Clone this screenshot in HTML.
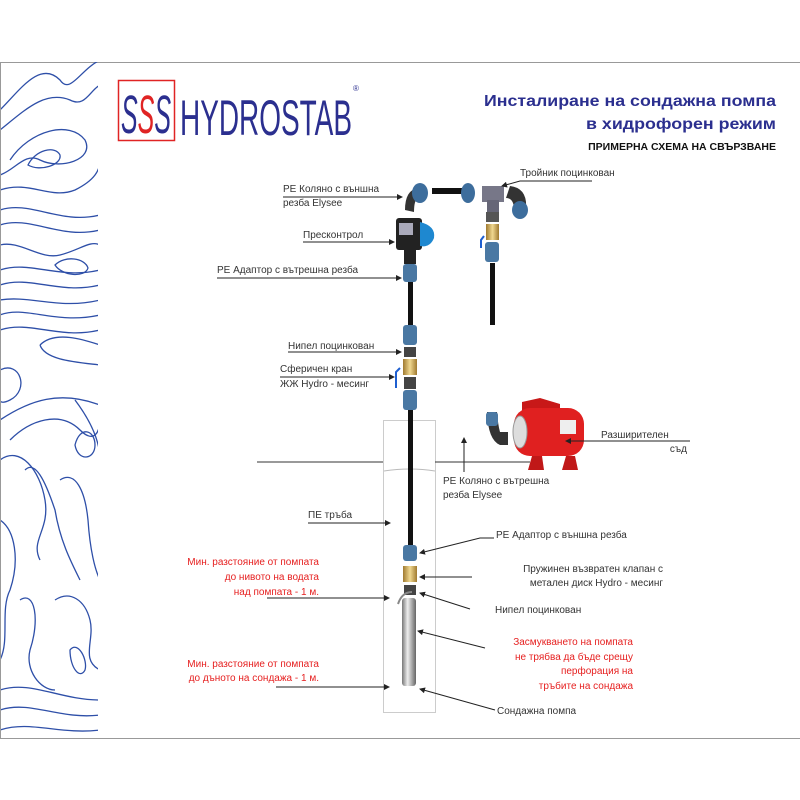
<!DOCTYPE html>
<html><head><meta charset="utf-8"><style>
html,body{margin:0;padding:0;background:#fff;}
svg{display:block;}
text{font-family:"Liberation Sans","DejaVu Sans",sans-serif;}
.l{font-size:10px;fill:#333;}
.r{font-size:10px;fill:#e62020;}
</style></head><body>
<svg width="800" height="800" viewBox="0 0 800 800" xmlns="http://www.w3.org/2000/svg">
<defs>
<marker id="a" markerWidth="6" markerHeight="6" refX="5" refY="3" orient="auto" markerUnits="userSpaceOnUse"><path d="M0,0 L6,3 L0,6 z" fill="#222"/></marker>
<clipPath id="cp"><rect x="1" y="62" width="97" height="676"/></clipPath>
<linearGradient id="met" x1="0" x2="1"><stop offset="0" stop-color="#777"/><stop offset=".4" stop-color="#eee"/><stop offset=".7" stop-color="#aaa"/><stop offset="1" stop-color="#666"/></linearGradient>
<linearGradient id="br" x1="0" x2="1"><stop offset="0" stop-color="#a07a30"/><stop offset=".5" stop-color="#f0d890"/><stop offset="1" stop-color="#a07a30"/></linearGradient>
</defs>
<rect x="0.5" y="62.5" width="800" height="676" fill="#fff" stroke="#999" stroke-width="1"/>
<g clip-path="url(#cp)" fill="none" stroke="#2e4fa8" stroke-width="1.3">
<path d="M0,110 C20,90 40,60 60,80 C70,95 80,70 100,60"/>
<path d="M0,130 C25,110 45,90 70,100 C85,108 90,90 100,85"/>
<path d="M10,160 C30,130 70,120 85,140 C95,160 60,170 40,160 C25,152 15,170 0,175"/>
<path d="M28,165 C35,150 55,145 60,155 C62,165 40,172 28,165 z"/>
<path d="M0,190 C30,180 50,200 75,190 C95,180 100,170 100,160"/>
<path d="M0,210 C30,200 60,225 100,215"/>
<path d="M0,225 C30,215 60,240 100,230"/>
<path d="M0,245 C20,240 40,260 60,255 C80,250 90,240 100,245"/>
<path d="M0,270 C30,260 60,280 100,270"/>
<path d="M0,285 C30,275 60,295 100,285"/>
<path d="M55,265 C65,255 85,258 88,268 C85,278 62,276 55,265 z"/>
<path d="M0,300 C30,295 60,310 100,300"/>
<path d="M0,315 C25,305 55,325 100,315"/>
<path d="M0,330 C30,320 60,340 100,330"/>
<path d="M40,345 C55,330 85,340 100,345 M40,345 C45,360 75,362 100,365"/>
<path d="M0,370 C20,360 30,390 10,400 C0,405 0,400 0,400"/>
<path d="M0,420 C30,400 60,390 100,405"/>
<path d="M10,440 C30,420 60,410 80,430 C95,445 100,430 100,420"/>
<path d="M0,460 C20,445 40,470 45,500 C50,530 30,540 40,560"/>
<path d="M25,470 C35,460 45,480 55,510 C60,540 70,560 80,580"/>
<path d="M60,480 C75,470 85,490 88,520 C90,550 95,570 100,580"/>
<path d="M75,400 C90,420 100,440 100,460"/>
<path d="M75,445 C80,425 95,430 95,445 C95,460 78,462 75,445 z"/>
<path d="M0,520 C15,530 20,560 10,590 C0,610 10,640 0,660"/>
<path d="M20,600 C35,590 40,620 30,650 C25,670 40,690 55,690"/>
<path d="M55,600 C70,590 85,600 90,620 C95,640 80,660 100,670"/>
<path d="M0,690 C30,680 60,700 100,700"/>
<path d="M0,710 C30,700 60,720 100,715"/>
<path d="M70,650 C78,640 88,660 85,670 C80,680 70,668 70,650 z"/>
<path d="M0,730 C30,720 60,735 100,730"/>
</g>
<!-- logo -->
<rect x="118.5" y="80.5" width="56" height="60" fill="#fff" stroke="#e02424" stroke-width="1.5"/>
<text x="121" y="133" font-size="54" font-style="italic" font-family="Liberation Serif,serif" textLength="50" lengthAdjust="spacingAndGlyphs"><tspan fill="#2b2f8f">S</tspan><tspan fill="#e02424">S</tspan><tspan fill="#2b2f8f">S</tspan></text>
<text x="180" y="135" font-size="50" fill="#2b2f8f" textLength="172" lengthAdjust="spacingAndGlyphs">HYDROSTAB</text>
<text x="353" y="91" font-size="8" fill="#2b2f8f">®</text>
<text x="776" y="106" text-anchor="end" font-size="16" font-weight="bold" fill="#2b2f8f" textLength="292" lengthAdjust="spacingAndGlyphs">Инсталиране на сондажна помпа</text>
<text x="776" y="129" text-anchor="end" font-size="16" font-weight="bold" fill="#2b2f8f" textLength="190" lengthAdjust="spacingAndGlyphs">в хидрофорен режим</text>
<text x="776" y="150" text-anchor="end" font-size="10.5" font-weight="bold" fill="#111">ПРИМЕРНА СХЕМА НА СВЪРЗВАНЕ</text>
<!-- well -->
<rect x="383.5" y="420.5" width="52" height="292" fill="none" stroke="#ccc"/>
<line x1="257" y1="462" x2="383" y2="462" stroke="#333"/>
<line x1="435" y1="462" x2="530" y2="462" stroke="#333"/>
<path d="M384,471 Q410,467 435,471" fill="none" stroke="#bbb"/>
<!-- pipes -->
<rect x="408" y="280" width="5" height="50" fill="#111"/>
<rect x="408" y="410" width="5" height="140" fill="#111"/>
<rect x="490" y="263" width="5" height="62" fill="#111"/>
<rect x="432" y="188" width="34" height="6" fill="#111"/>
<!-- fittings left -->
<path d="M405,210 Q405,190 418,188 L426,188 L426,198 L418,198 Q414,200 414,212 z" fill="#333"/>
<ellipse cx="420" cy="193" rx="8" ry="10" fill="#3d6d9c"/>
<rect x="396" y="218" width="26" height="32" rx="3" fill="#222"/>
<path d="M420,222 Q436,226 434,238 Q430,248 420,246 z" fill="#1e88d0"/>
<rect x="399" y="223" width="14" height="12" fill="#aab"/>
<rect x="404" y="250" width="12" height="14" fill="#222"/>
<rect x="403" y="264" width="14" height="18" rx="3" fill="#4a78a3"/>
<rect x="403" y="325" width="14" height="20" rx="3" fill="#4a78a3"/>
<rect x="404" y="347" width="12" height="10" fill="#444"/>
<rect x="403" y="359" width="14" height="16" fill="url(#br)"/>
<path d="M400,368 L396,372 L396,388" stroke="#1e5fd0" stroke-width="2" fill="none"/>
<rect x="404" y="377" width="12" height="12" fill="#444"/>
<rect x="403" y="390" width="14" height="20" rx="3" fill="#4a78a3"/>
<!-- fittings right -->
<ellipse cx="468" cy="193" rx="7" ry="10" fill="#3d6d9c"/>
<rect x="482" y="186" width="22" height="16" fill="#778"/>
<rect x="487" y="200" width="12" height="12" fill="#667"/>
<path d="M510,186 Q528,188 526,210 L514,210 Q514,198 506,198 z" fill="#333"/>
<ellipse cx="520" cy="210" rx="8" ry="9" fill="#3d6d9c"/>
<rect x="486" y="212" width="13" height="10" fill="#555"/>
<rect x="486" y="224" width="13" height="16" fill="url(#br)"/>
<path d="M484,236 L481,240 L481,248" stroke="#1e5fd0" stroke-width="2" fill="none"/>
<rect x="485" y="242" width="14" height="20" rx="3" fill="#4a78a3"/>
<path d="M487,412 Q488,440 500,445 L508,445 L508,432 L500,432 Q498,425 497,412 z" fill="#333"/>
<rect x="486" y="412" width="12" height="14" rx="3" fill="#4a78a3"/>
<!-- tank -->
<path d="M522,402 L540,398 L560,404 L560,412 L522,412 z" fill="#c81818"/>
<rect x="514" y="408" width="70" height="48" rx="16" fill="#e02020"/>
<ellipse cx="520" cy="432" rx="7" ry="16" fill="#ddd" stroke="#999"/>
<rect x="560" y="420" width="16" height="14" fill="#eee"/>
<path d="M532,456 L528,470 L544,470 L542,456 z M566,456 L562,470 L578,470 L575,456 z" fill="#c01818"/>
<!-- lower fittings -->
<rect x="403" y="545" width="14" height="16" rx="3" fill="#4a78a3"/>
<rect x="403" y="566" width="14" height="16" fill="url(#br)"/>
<rect x="404" y="585" width="12" height="10" fill="#444"/>
<path d="M398,604 Q402,592 412,592" stroke="#888" stroke-width="2" fill="none"/>
<rect x="402" y="598" width="14" height="88" rx="3" fill="url(#met)"/>
<!-- arrows -->
<g stroke="#222" stroke-width="1" fill="none" marker-end="url(#a)">
<line x1="283" y1="197" x2="402" y2="197"/>
<line x1="303" y1="242" x2="394" y2="242"/>
<line x1="217" y1="278" x2="401" y2="278"/>
<line x1="288" y1="352" x2="401" y2="352"/>
<line x1="280" y1="377" x2="394" y2="377"/>
<polyline points="592,181 520,181 502,186"/>
<line x1="690" y1="441" x2="566" y2="441"/>
<line x1="464" y1="472" x2="464" y2="438"/>
<line x1="308" y1="523" x2="390" y2="523"/>
<polyline points="494,538 480,538 420,553"/>
<line x1="472" y1="577" x2="420" y2="577"/>
<polyline points="470,609 420,593"/>
<line x1="267" y1="598" x2="389" y2="598"/>
<polyline points="485,648 418,631"/>
<line x1="276" y1="687" x2="389" y2="687"/>
<polyline points="495,710 420,689"/>
</g>
<!-- labels -->
<text class="l" x="283" y="192">PE Коляно с външна</text>
<text class="l" x="283" y="206">резба Elysee</text>
<text class="l" x="520" y="176">Тройник поцинкован</text>
<text class="l" x="303" y="238">Пресконтрол</text>
<text class="l" x="217" y="273">PE Адаптор с вътрешна резба</text>
<text class="l" x="288" y="349">Нипел поцинкован</text>
<text class="l" x="280" y="372">Сферичен кран</text>
<text class="l" x="280" y="387">ЖЖ Hydro - месинг</text>
<text class="l" x="601" y="438">Разширителен</text>
<text class="l" x="687" y="452" text-anchor="end">съд</text>
<text class="l" x="443" y="484">PE Коляно с вътрешна</text>
<text class="l" x="443" y="498">резба Elysee</text>
<text class="l" x="308" y="518">ПЕ тръба</text>
<text class="l" x="496" y="538">PE Адаптор с външна резба</text>
<text class="l" x="663" y="572" text-anchor="end">Пружинен възвратен клапан с</text>
<text class="l" x="663" y="586" text-anchor="end">метален диск Hydro - месинг</text>
<text class="l" x="495" y="613">Нипел поцинкован</text>
<text class="l" x="497" y="714">Сондажна помпа</text>
<text class="r" x="319" y="565" text-anchor="end">Мин. разстояние от помпата</text>
<text class="r" x="319" y="580" text-anchor="end">до нивото на водата</text>
<text class="r" x="319" y="595" text-anchor="end">над помпата - 1 м.</text>
<text class="r" x="319" y="667" text-anchor="end">Мин. разстояние от помпата</text>
<text class="r" x="319" y="681" text-anchor="end">до дъното на сондажа - 1 м.</text>
<text class="r" x="633" y="645" text-anchor="end">Засмукването на помпата</text>
<text class="r" x="633" y="660" text-anchor="end">не трябва да бъде срещу</text>
<text class="r" x="633" y="674" text-anchor="end">перфорация на</text>
<text class="r" x="633" y="689" text-anchor="end">тръбите на сондажа</text>
</svg>
</body></html>
